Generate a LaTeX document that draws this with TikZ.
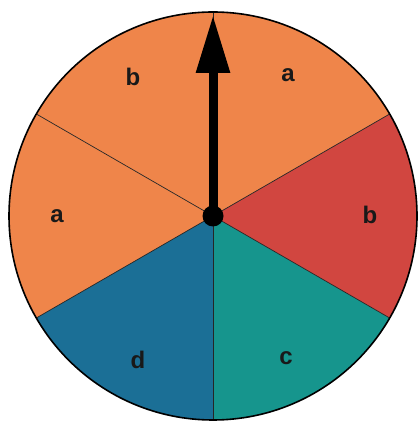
\documentclass[tikz,border=0pt]{standalone}
\usepackage{fontspec}
\setmainfont{Liberation Sans}
\usetikzlibrary{arrows.meta}
\definecolor{sorange}{RGB}{239,133,74}
\definecolor{sred}{RGB}{209,70,64}
\definecolor{sblue}{RGB}{27,111,150}
\definecolor{steal}{RGB}{22,149,141}
\tikzset{
  lbl/.style={font=\bfseries\fontsize{24}{28}\selectfont, inner sep=0pt, text=black!90},
  divline/.style={line width=0.7pt, draw=black!85},
  rim/.style={line width=1.6pt, draw=black},
}
\begin{document}
\begin{tikzpicture}[x=1pt,y=1pt]
\useasboundingbox (0,0) rectangle (417,422);
\begin{scope}[shift={(213,206)}]
\def\R{204}
\fill[sorange] (0,0) -- (30:\R) arc[start angle=30,end angle=90,radius=\R] -- cycle;
\fill[sorange] (0,0) -- (90:\R) arc[start angle=90,end angle=150,radius=\R] -- cycle;
\fill[sorange] (0,0) -- (150:\R) arc[start angle=150,end angle=210,radius=\R] -- cycle;
\fill[sblue] (0,0) -- (210:\R) arc[start angle=210,end angle=270,radius=\R] -- cycle;
\fill[steal] (0,0) -- (270:\R) arc[start angle=270,end angle=330,radius=\R] -- cycle;
\fill[sred] (0,0) -- (-30:\R) arc[start angle=-30,end angle=30,radius=\R] -- cycle;
\coordinate (o) at (0,0);
\foreach \a in {30,90,150,210,270,330}
  \draw[divline] (o) -- (\a:\R);
\draw[rim] (o) circle[radius=\R];
\coordinate (tip) at (0,201);
\node[circle, fill=black, inner sep=0pt, minimum size=21pt] (hub) at (o) {};
\draw[line width=9pt, -{Triangle[length=58pt,width=32pt]}] (hub.center) -- (tip);
\end{scope}
\node[lbl] (l1) at (288,347) {a};
\node[lbl] (l2) at (133,345) {b};
\node[lbl] (l3) at (57,206) {a};
\node[lbl] (l4) at (370,207) {b};
\node[lbl] (l5) at (138,62) {d};
\node[lbl] (l6) at (286,64) {c};
\end{tikzpicture}
\end{document}
